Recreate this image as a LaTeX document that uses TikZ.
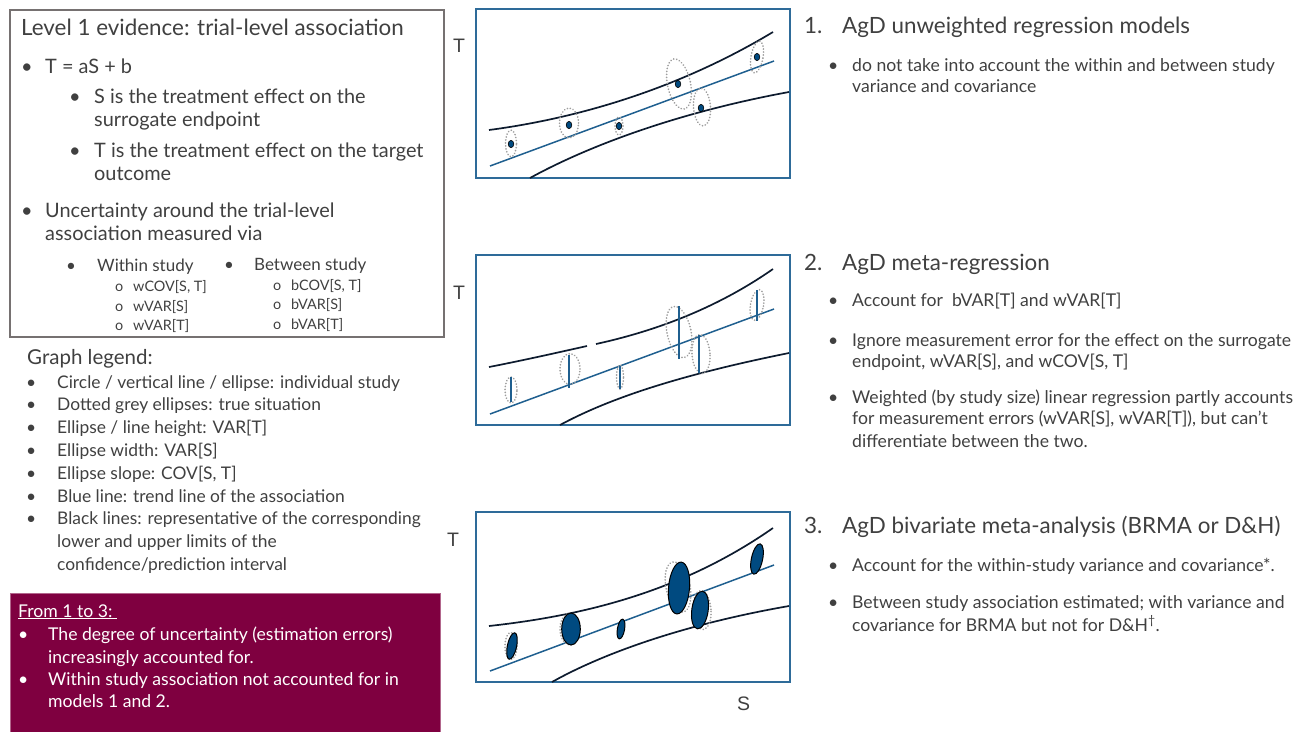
\documentclass[tikz,border=0pt]{standalone}
\usepackage{fontspec}
\setmainfont{Lato}
\newfontfamily\arialf{Liberation Sans}
\definecolor{tgray}{HTML}{404040}
\definecolor{boxgray}{HTML}{767171}
\definecolor{maroon}{HTML}{7F0040}
\definecolor{gblue}{HTML}{2E6B99}
\definecolor{tblue}{HTML}{1F5F8F}
\definecolor{cnavy}{HTML}{0D1B2E}
\definecolor{snavy}{HTML}{004A80}
\definecolor{tgrey}{HTML}{9E9E9E}
\begin{document}
\begin{tikzpicture}[x=1pt,y=-1pt,
  txt/.style={anchor=base west, inner sep=0pt, text=tgray},
  fa/.style={font=\fontsize{22.4}{26}\selectfont},
  fg/.style={font=\fontsize{20.5}{24}\selectfont},
  fb/.style={font=\fontsize{19.9}{24}\selectfont},
  fc/.style={font=\fontsize{17}{20}\selectfont},
  fd/.style={font=\fontsize{14.4}{17}\selectfont},
  fe/.style={font=\fontsize{17.4}{21}\selectfont},
  ff/.style={font=\fontsize{17.6}{21}\selectfont},
  wt/.style={text=white},
  axl/.style={anchor=base west, inner sep=0pt, text=tgray, font=\arialf\fontsize{19.5}{22}\selectfont},
  gbox/.style={draw=gblue, line width=1.8pt},
  cib/.style={draw=cnavy, line width=1.7pt},
  trend/.style={draw=tblue, line width=1.5pt},
  truth/.style={draw=tgrey, line width=1.8pt, dash pattern=on 0.1pt off 2.9pt, line cap=round},
  dotst/.style={fill=snavy, draw=black, line width=0.6pt},
  vbar/.style={draw=tblue, line width=2.2pt},
  studyst/.style={fill=snavy, draw=black, line width=1pt}
]
\useasboundingbox (0,0) rectangle (1306,732);

% ---------------- top-left box ----------------
\draw[boxgray, line width=1.3pt] (10,10) rectangle (444,337);
\node[txt,fa] (t0) at (21,35) {Level 1 evidence: trial-level association};
\node[txt,fb] (b1) at (21,73) {•};
\node[txt,fb] (t1) at (45,73) {T = aS + b};
\node[txt,fb] (b2) at (69,103) {•};
\node[txt,fb] (t2) at (94,103) {S is the treatment effect on the};
\node[txt,fb] (t3) at (94,126) {surrogate endpoint};
\node[txt,fb] (b3) at (69,157) {•};
\node[txt,fb] (t4) at (94,157) {T is the treatment effect on the target};
\node[txt,fb] (t5) at (94,180) {outcome};
\node[txt,fb] (b4) at (21,217) {•};
\node[txt,fb] (t6) at (45,217) {Uncertainty around the trial-level};
\node[txt,fb] (t7) at (45,240) {association measured via};
\node[txt,fc] (b5) at (66,271) {•};
\node[txt,fc] (t8) at (97,271) {Within study};
\node[txt,fc] (b6) at (224,270) {•};
\node[txt,fc] (t9) at (254,270) {Between study};
\node[txt,fd] (o1) at (115,291) {o};
\node[txt,fd] (o2) at (115,311) {o};
\node[txt,fd] (o3) at (115,330) {o};
\node[txt,fd] (w1) at (133,291) {wCOV[S, T]};
\node[txt,fd] (w2) at (133,311) {wVAR[S]};
\node[txt,fd] (w3) at (133,330) {wVAR[T]};
\node[txt,fd] (o4) at (273,290) {o};
\node[txt,fd] (o5) at (273,309) {o};
\node[txt,fd] (o6) at (273,329) {o};
\node[txt,fd] (v1) at (291,290) {bCOV[S, T]};
\node[txt,fd] (v2) at (291,309) {bVAR[S]};
\node[txt,fd] (v3) at (291,329) {bVAR[T]};

% ---------------- legend ----------------
\node[txt,fg] (lg) at (27,364) {Graph legend:};
\foreach \yy/\tx [count=\i] in {388/{Circle / vertical line / ellipse: individual study},
  410.5/{Dotted grey ellipses: true situation},
  433/{Ellipse / line height: VAR[T]},
  456/{Ellipse width: VAR[S]},
  479/{Ellipse slope: COV[S, T]},
  502/{Blue line: trend line of the association},
  524.5/{Black lines: representative of the corresponding}}{
  \node[txt,fe] (lb\i) at (26,\yy) {•};
  \node[txt,fe] (lt\i) at (57,\yy) {\tx};
}
\node[txt,fe] (lt8) at (57,547) {lower and upper limits of the};
\node[txt,fe] (lt9) at (57,570) {confidence/prediction interval};

% ---------------- maroon box ----------------
\fill[maroon] (10,593) rectangle (440,732);
\draw[draw=maroon!60!white, line width=0.8pt] (10,732) -- (10,593) -- (440,593) -- (440,732);
\node[txt,ff,wt] (m0) at (18,617) {\underline{From 1 to 3:\ }};
\node[txt,ff,wt] (mb1) at (18,640) {•};
\node[txt,ff,wt] (m1) at (48,640) {The degree of uncertainty (estimation errors)};
\node[txt,ff,wt] (m2) at (48,663) {increasingly accounted for.};
\node[txt,ff,wt] (mb2) at (18,685) {•};
\node[txt,ff,wt] (m3) at (48,685) {Within study association not accounted for in};
\node[txt,ff,wt] (m4) at (48,707) {models 1 and 2.};

% ---------------- right texts ----------------
\node[txt,fa] (n1) at (804,33) {1.};
\node[txt,fa] (h1) at (842,33) {AgD unweighted regression models};
\node[txt,ff] (rb1) at (828,71) {•};
\node[txt,ff] (r1) at (852,71) {do not take into account the within and between study};
\node[txt,ff] (r2) at (852,92) {variance and covariance};

\node[txt,fa] (n2) at (804,270) {2.};
\node[txt,fa] (h2) at (842,270) {AgD meta-regression};
\node[txt,ff] (rb2) at (828,306) {•};
\node[txt,ff] (r3) at (852,306) {Account for\ \ bVAR[T] and wVAR[T]};
\node[txt,ff] (rb3) at (828,346) {•};
\node[txt,ff] (r4) at (852,346) {Ignore measurement error for the effect on the surrogate};
\node[txt,ff] (r5) at (852,367) {endpoint, wVAR[S], and wCOV[S, T]};
\node[txt,ff] (rb4) at (828,403) {•};
\node[txt,ff] (r6) at (852,403) {Weighted (by study size) linear regression partly accounts};
\node[txt,ff] (r7) at (852,424) {for measurement errors (wVAR[S], wVAR[T]), but can’t};
\node[txt,ff] (r8) at (852,447) {differentiate between the two.};

\node[txt,fa] (n3) at (804,533) {3.};
\node[txt,fa] (h3) at (842,533) {AgD bivariate meta-analysis (BRMA or D\&H)};
\node[txt,ff] (rb5) at (828,571) {•};
\node[txt,ff] (r9) at (852,571) {Account for the within-study variance and covariance*.};
\node[txt,ff] (rb6) at (828,608) {•};
\node[txt,ff] (r10) at (852,608) {Between study association estimated; with variance and};
\node[txt,ff] (r11) at (852,631) {covariance for BRMA but not for D\&H\textsuperscript{†}.};

% ---------------- axis labels ----------------
\node[axl] (T1) at (453,52) {T};
\node[axl] (T2) at (453,299) {T};
\node[axl] (T3) at (447,546) {T};
\node[axl] (S3) at (737,710) {S};

% ---------------- graph 1 ----------------
\draw[gbox] (476,9) rectangle (790,178);
\draw[cib] (489,130) .. controls (580,118) and (680,88) .. (773,32);
\draw[cib] (530,178) .. controls (590,145) and (680,112) .. (789,92);
\draw[trend] (490,166) -- (774,61);
\draw[truth] (511,143.5) ellipse [x radius=5.5pt, y radius=13.3pt];
\draw[truth] (569,123) ellipse [x radius=9.5pt, y radius=15pt];
\draw[truth] (619,126) ellipse [x radius=4pt, y radius=9pt];
\draw[truth, rotate around={12:(679,84)}] (679,84) ellipse [x radius=11.5pt, y radius=25.5pt];
\draw[truth, rotate around={4:(702,107)}] (702,107) ellipse [x radius=8.5pt, y radius=19pt];
\draw[truth, rotate around={-10:(757,57)}] (757,57) ellipse [x radius=6pt, y radius=16pt];
\foreach \px/\py [count=\i] in {511/144, 569/125, 619/126, 678/84, 701/108, 757/57}
  \draw[dotst] (\px,\py) ellipse [x radius=2.8pt, y radius=3.6pt];

% ---------------- graph 2 ----------------
\draw[gbox] (476,255) rectangle (790,425);
\draw[cib] (489,367) .. controls (525,360) and (560,352) .. (587,346);
\draw[cib] (596,344) .. controls (660,330) and (720,306) .. (773,269);
\draw[cib] (560,425) .. controls (610,398) and (680,375) .. (789,353);
\draw[trend] (490,414) -- (774,309);
\draw[truth] (511,390) ellipse [x radius=6pt, y radius=13pt];
\draw[truth] (570,369) ellipse [x radius=10pt, y radius=15.5pt];
\draw[truth] (620,377) ellipse [x radius=3.5pt, y radius=12pt];
\draw[truth, rotate around={12:(679,332)}] (679,332) ellipse [x radius=12pt, y radius=26pt];
\draw[truth, rotate around={4:(701,354)}] (701,354) ellipse [x radius=9pt, y radius=19.5pt];
\draw[truth, rotate around={-10:(757,305)}] (757,305) ellipse [x radius=6.5pt, y radius=15.5pt];
\draw[vbar] (511,377) -- (511,402);
\draw[vbar] (569,355) -- (569,388);
\draw[vbar] (620,366) -- (620,389);
\draw[vbar] (679,306) -- (679,359);
\draw[vbar] (699,335) -- (699,373);
\draw[vbar] (757,290) -- (757,321);

% ---------------- graph 3 ----------------
\draw[gbox] (476,512) rectangle (790,682);
\draw[cib] (489,626) .. controls (580,616) and (680,593) .. (773,528);
\draw[cib] (552,682) .. controls (600,655) and (680,625) .. (789,606);
\draw[trend] (490,671) -- (774,565);
\draw[truth] (511,646) ellipse [x radius=6pt, y radius=13.5pt];
\draw[truth] (570,629) ellipse [x radius=10pt, y radius=16pt];
\draw[truth, rotate around={12:(678,587)}] (678,587) ellipse [x radius=12pt, y radius=25.5pt];
\draw[truth, rotate around={4:(702,610)}] (702,610) ellipse [x radius=9pt, y radius=19.5pt];
\draw[studyst, rotate around={-12:(512,646)}] (512,646) ellipse [x radius=4.6pt, y radius=13.5pt];
\draw[studyst] (571,629) ellipse [x radius=9.3pt, y radius=16pt];
\draw[studyst, rotate around={-10:(621,629)}] (621,629) ellipse [x radius=3.6pt, y radius=10pt];
\draw[studyst, rotate around={-5:(679,588)}] (679,588) ellipse [x radius=10.5pt, y radius=26pt];
\draw[studyst, rotate around={-8:(700,610)}] (700,610) ellipse [x radius=8.2pt, y radius=19pt];
\draw[studyst, rotate around={-12:(757,559)}] (757,559) ellipse [x radius=5.6pt, y radius=15.5pt];
\end{tikzpicture}
\end{document}
